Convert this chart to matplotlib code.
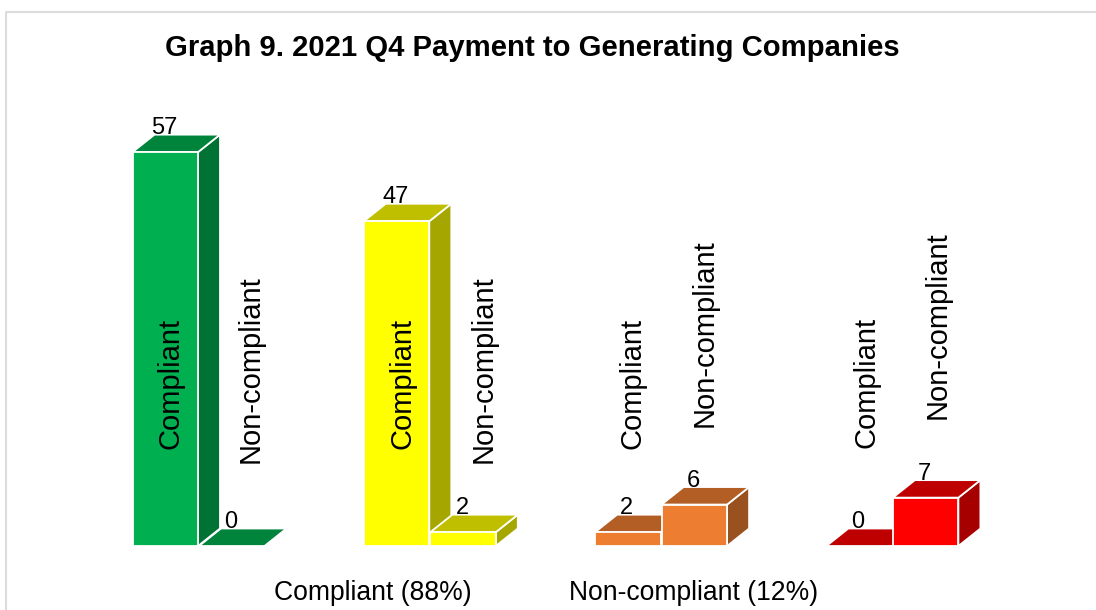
"""Graph 9: 3D-look column chart of Q4 payments, faces drawn as polygons."""
import numpy as np
import matplotlib
matplotlib.use("Agg")
import matplotlib.pyplot as plt
from matplotlib.patches import Polygon
from matplotlib.lines import Line2D
plt.rcParams["font.family"] = ["Liberation Sans", "DejaVu Sans"]

title = "Graph 9. 2021 Q4 Payment to Generating Companies"
series_names = ["Compliant", "Non-compliant"]
group_colors = ["#00B050", "#FFFF00", "#ED7D31", "#FF0000"]
compliant = [57, 47, 2, 0]
non_compliant = [0, 2, 6, 7]
footer = ["Compliant (88%)", "Non-compliant (12%)"]

W, H = 1096, 610
fig = plt.figure(figsize=(W / 100, H / 100), dpi=100, facecolor="white")

# axes placed so that y=0 falls on the baseline and group 0 is centred at x=198.5px
PX_Y = 6.91; PX_X = 231.3; X0 = 198.5; BASE = 546
ax_l, ax_r, ax_t = 60, 1040, 100
ax = fig.add_axes([ax_l / W, (H - BASE) / H, (ax_r - ax_l) / W, (BASE - ax_t) / H])
ax.set_xlim((ax_l - X0) / PX_X, (ax_r - X0) / PX_X)
ax.set_ylim(0, (BASE - ax_t) / PX_Y)
ax.axis("off")

bw = 65.5 / PX_X; gap = 0.5 / PX_X
dx = 22 / PX_X; dy = 17.5 / PX_Y
edge = dict(edgecolor="#ffffff", linewidth=1.3, joinstyle="miter", clip_on=False)

def shade(col, k):
    return tuple(c * k for c in matplotlib.colors.to_rgb(col))

def box(x, v, col):
    # side, top, then front
    if v > 0:
        ax.add_patch(Polygon([(x + bw, 0), (x + bw + dx, dy), (x + bw + dx, v + dy), (x + bw, v)],
                             facecolor=shade(col, .65), **edge))
    ax.add_patch(Polygon([(x, v), (x + dx, v + dy), (x + bw + dx, v + dy), (x + bw, v)],
                         facecolor=shade(col, .75), **edge))
    if v > 0:
        ax.add_patch(Polygon([(x, 0), (x + bw, 0), (x + bw, v), (x, v)], facecolor=col, **edge))

for i, col in enumerate(group_colors):
    box(i - bw - gap, compliant[i], col)
    box(i + gap, non_compliant[i], col)
    # value labels sit at the middle of the top face
    for x, v in [(i - bw - gap, compliant[i]), (i + gap, non_compliant[i])]:
        ax.annotate(str(v), (x + bw / 2, v), xytext=(-1, 24), textcoords="offset pixels",
                    ha="center", va="center", fontsize=17, color="black", zorder=10,
                    annotation_clip=False)

def txt(x, y, s, **kw):
    fig.text(x / W, 1 - y / H, s, ha="center", va="center", color="black", **kw)

txt(532, 47.5, title, fontsize=21.1, fontweight="bold")
comp_x = [171, 402, 632, 866]; comp_y = [383, 383, 383, 382]
non_x = [251, 484, 705, 938]; non_y = [369, 369, 333, 325]
for i in range(4):
    txt(comp_x[i], comp_y[i], series_names[0], fontsize=21, rotation=90)
    txt(non_x[i], non_y[i], series_names[1], fontsize=21, rotation=90)
txt(373, 592.5, footer[0], fontsize=19.1)
txt(694, 592.5, footer[1], fontsize=19.1)

# light frame of the chart area, only top and left show
fig.add_artist(Line2D([6 / W, 6 / W, 1], [0, 1 - 12 / H, 1 - 12 / H], color="#dcdcdc", lw=1.5))

fig.savefig("out.png", dpi=100)
